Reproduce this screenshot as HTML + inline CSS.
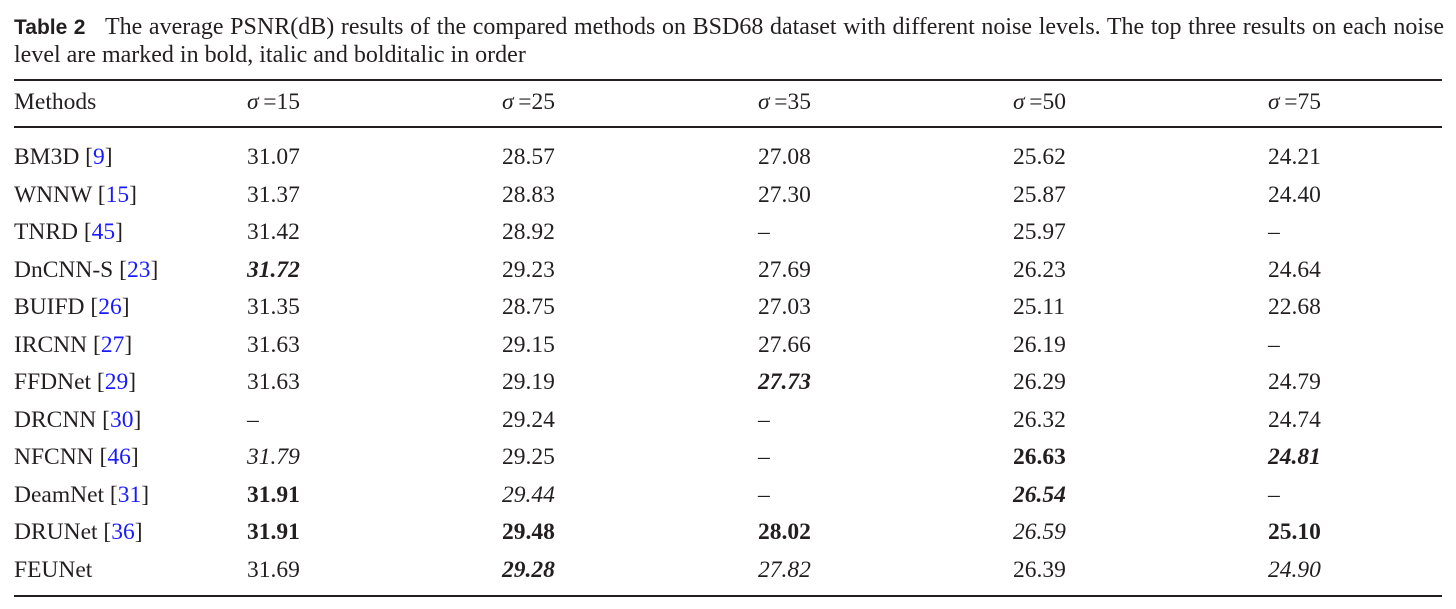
<!DOCTYPE html>
<html><head><meta charset="utf-8"><style>
body{margin:0;width:1456px;height:609px;background:#fff;font-family:"Liberation Serif",serif;color:#231f20;position:relative;overflow:hidden}
.c{position:absolute;font-size:23.5px;line-height:26px;white-space:nowrap}
.r{position:absolute;left:14px;width:1428px;background:#231f20}
.b{color:#1a1aff}
.cap{position:absolute;left:14px;font-size:24px;line-height:28px;white-space:nowrap}
.cap b{font-family:"Liberation Sans",sans-serif;font-size:21px}
</style></head><body>
<div class="cap" style="top:13px;width:1430px;text-align:justify;text-align-last:justify;white-space:normal;height:28px;overflow:hidden"><b>Table 2</b>&nbsp;&nbsp; The average PSNR(dB) results of the compared methods on BSD68 dataset with different noise levels. The top three results on each noise</div>
<div class="cap" style="top:41px">level are marked in bold, italic and bolditalic in order</div>
<div class="r" style="top:79px;height:1.5px"></div>
<div class="r" style="top:126px;height:2px"></div>
<div class="r" style="top:595px;height:1.5px"></div>
<div id="t"></div>
<script>
var cols=[14,247,502,758,1013,1268];
var rows=[
["Methods","<i>σ</i>&thinsp;=15","<i>σ</i>&thinsp;=25","<i>σ</i>&thinsp;=35","<i>σ</i>&thinsp;=50","<i>σ</i>&thinsp;=75"],
["BM3D [<span class=b>9</span>]","31.07","28.57","27.08","25.62","24.21"],
["WNNW [<span class=b>15</span>]","31.37","28.83","27.30","25.87","24.40"],
["TNRD [<span class=b>45</span>]","31.42","28.92","–","25.97","–"],
["DnCNN-S [<span class=b>23</span>]","<b><i>31.72</i></b>","29.23","27.69","26.23","24.64"],
["BUIFD [<span class=b>26</span>]","31.35","28.75","27.03","25.11","22.68"],
["IRCNN [<span class=b>27</span>]","31.63","29.15","27.66","26.19","–"],
["FFDNet [<span class=b>29</span>]","31.63","29.19","<b><i>27.73</i></b>","26.29","24.79"],
["DRCNN [<span class=b>30</span>]","–","29.24","–","26.32","24.74"],
["NFCNN [<span class=b>46</span>]","<i>31.79</i>","29.25","–","<b>26.63</b>","<b><i>24.81</i></b>"],
["DeamNet [<span class=b>31</span>]","<b>31.91</b>","<i>29.44</i>","–","<b><i>26.54</i></b>","–"],
["DRUNet [<span class=b>36</span>]","<b>31.91</b>","<b>29.48</b>","<b>28.02</b>","<i>26.59</i>","<b>25.10</b>"],
["FEUNet","31.69","<b><i>29.28</i></b>","<i>27.82</i>","26.39","<i>24.90</i>"]];
var h="";
rows.forEach(function(r,i){var y=i==0?102:157+37.5*(i-1);
r.forEach(function(v,j){h+='<div class="c" style="left:'+cols[j]+'px;top:'+(y-13)+'px">'+v+'</div>';});});
document.getElementById("t").innerHTML=h;
</script>
</body></html>
